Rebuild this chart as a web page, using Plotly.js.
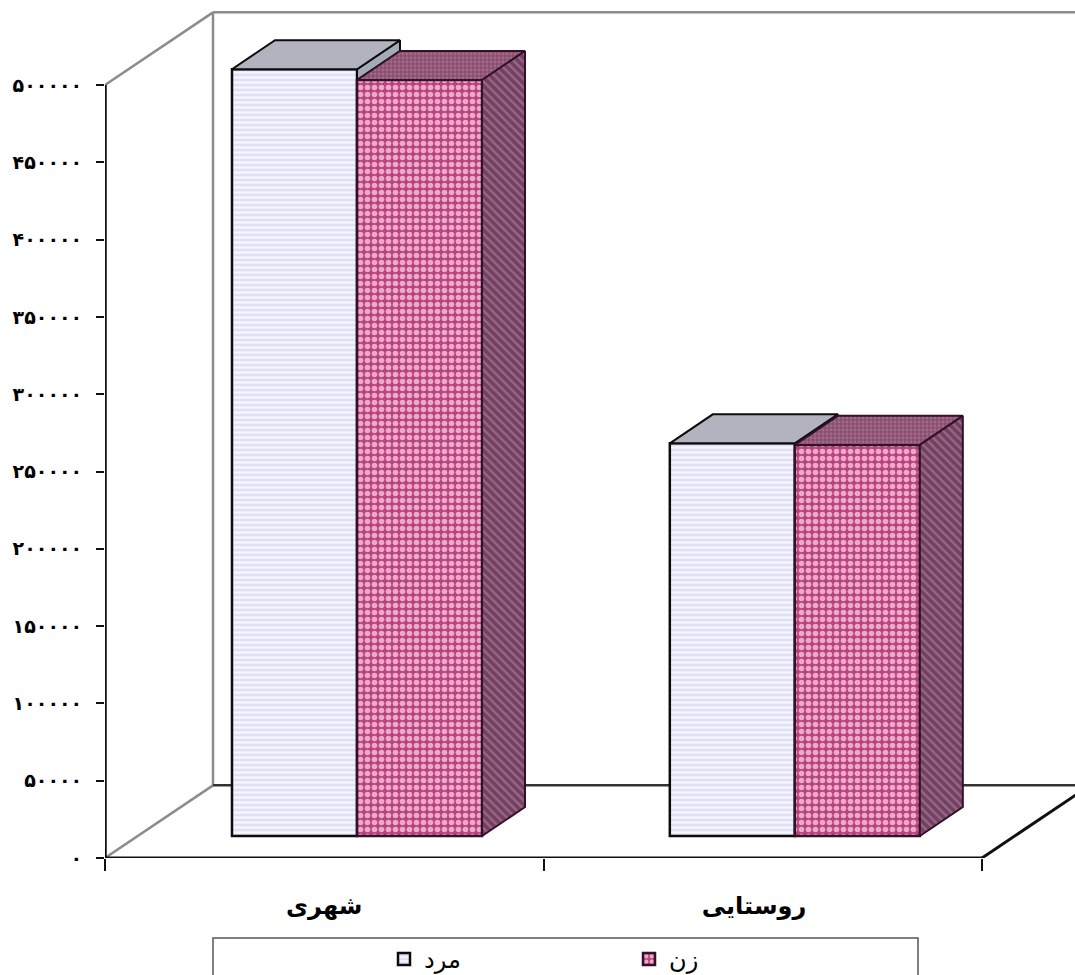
<!DOCTYPE html>
<html lang="fa">
<head>
<meta charset="utf-8">
<title>شهری و روستایی</title>
<script src="https://cdn.plot.ly/plotly-3.0.1.min.js"></script>
<style>html,body{margin:0;padding:0;background:#fff;overflow:hidden}#chart{width:1075px;height:975px}</style>
</head>
<body>
<div id="chart"></div>
<script>
const categories = ['شهری', 'روستایی'];
const seriesNames = ['مرد', 'زن'];
const menValues = [496000, 254000];
const womenValues = [489000, 253000];
const yTickValues = [0, 50000, 100000, 150000, 200000, 250000, 300000, 350000, 400000, 450000, 500000];
const yTickLabels = ['۰', '۵۰۰۰۰', '۱۰۰۰۰۰', '۱۵۰۰۰۰', '۲۰۰۰۰۰', '۲۵۰۰۰۰', '۳۰۰۰۰۰', '۳۵۰۰۰۰', '۴۰۰۰۰۰', '۴۵۰۰۰۰', '۵۰۰۰۰۰'];

// Projection of the 3-D look, in axis units
const yMax = 555000, xMax = 2.212;
const wallDx = 0.2463, wallDy = 47000;
const floorInset = 14230;
const barWidth = 0.2851, barStart = 0.2896, barDx = 0.098, barDy = 18760;
const labelCenters = [0.5, 1.48];

const F = 'DejaVu Sans, sans-serif';
const edgeDark = '#0c0c0c', edgeWine = '#35102a';

function groupLeft(i) { return barStart + i * 0.9984; }
const menX = categories.map((_, i) => groupLeft(i) + barWidth / 2);
const womenX = categories.map((_, i) => groupLeft(i) + barWidth * 1.5);

function poly(xs, ys, fill, pattern, line) {
  const t = { type: 'scatter', mode: 'lines', x: xs.concat(xs[0]), y: ys.concat(ys[0]), fill: 'toself',
    fillcolor: fill, line: { color: line, width: 2 }, showlegend: false, hoverinfo: 'skip' };
  if (pattern) t.fillpattern = pattern;
  return t;
}

const traces = [
  { type: 'bar', name: seriesNames[0], x: menX, y: menValues, base: categories.map(() => floorInset), width: barWidth,
    marker: { color: '#e4e4f7', line: { color: edgeDark, width: 2.5 },
      pattern: { shape: '-', bgcolor: '#e0e0f6', fgcolor: '#f7f7ff', size: 5, solidity: 0.45, fillmode: 'replace' } } },
  { type: 'bar', name: seriesNames[1], x: womenX, y: womenValues, base: categories.map(() => floorInset), width: barWidth,
    marker: { color: '#b83d78', line: { color: edgeWine, width: 2.5 },
      pattern: { shape: '.', bgcolor: '#b8437d', fgcolor: '#eda9ca', size: 7, solidity: 0.5, fillmode: 'replace' } } }
];

const sidePattern = { shape: '\\', bgcolor: '#74405f', fgcolor: '#95688a', size: 6, solidity: 0.4, fillmode: 'replace' };
const topPattern = { shape: '.', bgcolor: '#8a4f70', fgcolor: '#a06a88', size: 4, solidity: 0.4, fillmode: 'replace' };

categories.forEach((_, i) => {
  const xL = groupLeft(i), xM = xL + barWidth, xR = xM + barWidth;
  const mt = menValues[i] + floorInset, wt = womenValues[i] + floorInset, base = floorInset;
  // men's side, only the part standing clear of the women's bar
  traces.push(poly([xM, xM + barDx, xM + barDx, xM], [mt, mt + barDy, wt + barDy, wt], '#a3abb6', null, edgeDark));
  // men's top
  traces.push(poly([xL, xL + barDx, xM + barDx, xM], [mt, mt + barDy, mt + barDy, mt], '#b2b3bf', null, edgeDark));
  // women's top
  traces.push(poly([xM, xM + barDx, xR + barDx, xR], [wt, wt + barDy, wt + barDy, wt], '#8a4f70', topPattern, edgeWine));
  // women's side
  traces.push(poly([xR, xR + barDx, xR + barDx, xR], [wt, wt + barDy, base + barDy, base], '#76405f', sidePattern, edgeWine));
});

function seg(x0, y0, x1, y1, color, width) {
  return { type: 'line', layer: 'below', xref: 'x', yref: 'y', x0, y0, x1, y1, line: { color, width } };
}
const grey = '#8c8c8c';
const shapes = [
  seg(0, 500000, wallDx, 500000 + wallDy, grey, 2.5),
  seg(0, 0, wallDx, wallDy, grey, 2.5),
  seg(wallDx, wallDy, wallDx, 500000 + wallDy, grey, 2.5),
  seg(wallDx, 500000 + wallDy, 2 + wallDx, 500000 + wallDy, grey, 2.5),
  seg(wallDx, wallDy, 2 + wallDx, wallDy, '#333333', 2.5),
  seg(2, 0, 2 + wallDx, wallDy, '#111111', 3),
  seg(0, 0, 2, 0, '#111111', 3),
  seg(0, 0, 0, 500000, '#111111', 3.5),
  { type: 'rect', layer: 'below', xref: 'paper', yref: 'paper',
    x0: (213 - 105) / 970, x1: (918 - 105) / 970, y0: -(990 - 858) / 858, y1: -(938 - 858) / 858,
    line: { color: '#555555', width: 1.5 }, fillcolor: '#ffffff' }
];

const layout = {
  width: 1075, height: 975,
  margin: { l: 105, r: 0, t: 0, b: 117, pad: 0 },
  paper_bgcolor: '#ffffff', plot_bgcolor: 'rgba(0,0,0,0)',
  barmode: 'overlay',
  font: { family: F, color: '#000000' },
  xaxis: {
    range: [0, xMax], showgrid: false, zeroline: false, showline: false, fixedrange: true, automargin: false,
    tickmode: 'array', tickvals: labelCenters, ticktext: categories,
    ticks: 'outside', ticklen: 26, tickcolor: 'rgba(0,0,0,0)',
    tickfont: { family: F, size: 24, weight: 'bold', color: '#000000' },
    minor: { tickmode: 'array', tickvals: [0, 1, 2], ticks: 'outside', ticklen: 12, tickcolor: '#111111', tickwidth: 2, showgrid: false }
  },
  yaxis: {
    range: [0, yMax], showgrid: false, zeroline: false, showline: false, fixedrange: true, automargin: false,
    tickmode: 'array', tickvals: yTickValues, ticktext: yTickLabels,
    ticks: 'outside', ticklen: 8, tickcolor: '#111111', tickwidth: 2, ticklabelstandoff: 10,
    tickfont: { family: F, size: 19, weight: 'bold', color: '#000000' }
  },
  showlegend: true,
  legend: {
    orientation: 'h', xref: 'paper', yref: 'container', x: (384 - 105) / 970, xanchor: 'left', y: 1 - 937 / 975, yanchor: 'top',
    entrywidth: 200, entrywidthmode: 'pixels', traceorder: 'normal',
    font: { family: F, size: 24, color: '#000000' }, bgcolor: 'rgba(0,0,0,0)', borderwidth: 0
  },
  shapes
};

Plotly.newPlot('chart', traces, layout, { displayModeBar: false, responsive: false });
</script>
</body>
</html>
